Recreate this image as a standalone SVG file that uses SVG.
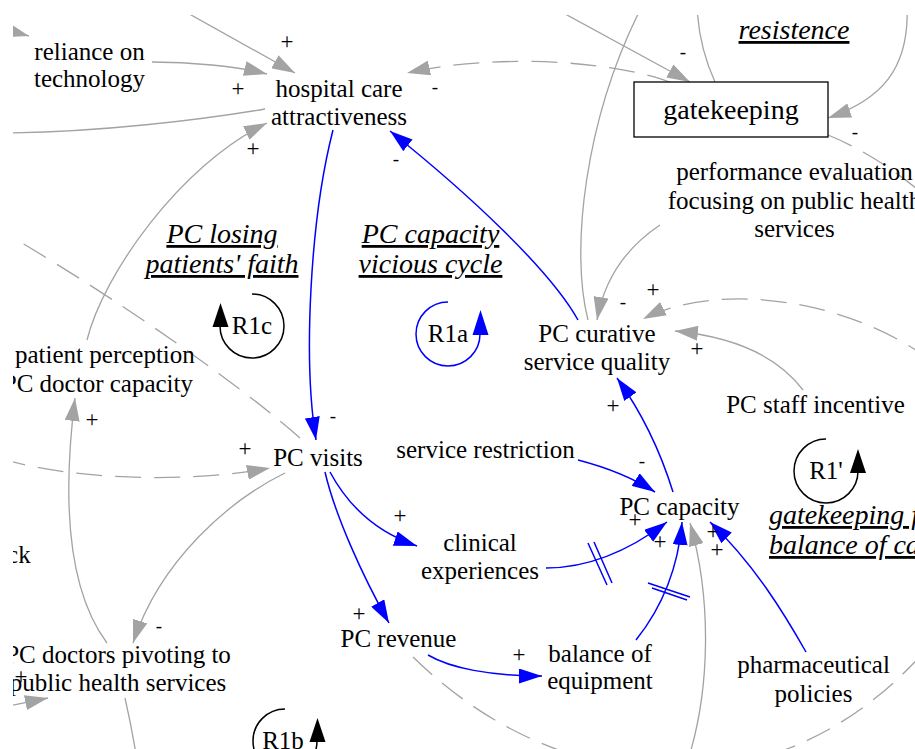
<svg xmlns="http://www.w3.org/2000/svg" width="915" height="749" viewBox="0 0 915 749">
<defs>
<style>
text{font-family:"Liberation Serif","Times New Roman",serif;fill:#000}
.v{font-size:25px;text-anchor:middle}
.l{font-size:28px;font-style:italic;text-decoration:underline;text-anchor:middle}
.p{font-size:19px;text-anchor:middle}
.q{font-size:23px;text-anchor:middle}
.g{fill:none;stroke:#a3a3a3;stroke-width:1.3}
.d{stroke-dasharray:26 13}
.b{fill:none;stroke:#0000ff;stroke-width:1.5}
.k{fill:none;stroke:#000;stroke-width:1.5}
.ag{marker-end:url(#mg)}
.ab{marker-end:url(#mb)}
</style>
<marker id="mg" markerUnits="userSpaceOnUse" markerWidth="23" markerHeight="15" viewBox="0 0 23 15" refX="23" refY="7.5" orient="auto"><path d="M0,0L23,7.5L0,15z" fill="#a3a3a3"/></marker>
<marker id="mb" markerUnits="userSpaceOnUse" markerWidth="23" markerHeight="15" viewBox="0 0 23 15" refX="23" refY="7.5" orient="auto"><path d="M0,0L23,7.5L0,15z" fill="#0000ff"/></marker>
<clipPath id="c"><rect x="13" y="15" width="902" height="734"/></clipPath>
</defs>
<rect x="0" y="0" width="915" height="749" fill="#fff"/>
<g clip-path="url(#c)">
<g id="connectors">
<path class="g ag" d="M175,6 L295,73"/>
<path class="g ag" d="M152,62 C190,62 235,66 267,74"/>
<path class="g" d="M265,109 C200,120 100,132 5,133"/>
<path class="g ag" d="M87,340 C103,275 180,165 267,123"/>
<path class="g ag" d="M-30,20 L29,36"/>
<path class="g d ag" d="M672,83 C620,62 500,52 407,73"/>
<path class="g ag" d="M545,3 L690,82"/>
<path class="g" d="M588,320 C570,250 585,120 640,10"/>
<path class="g" d="M715,82 C705,60 698,35 697,5"/>
<path class="g ag" d="M907,5 C910,70 880,100 828,118"/>
<path class="g d" d="M828,135 C855,146 890,165 930,200"/>
<path class="g ag" d="M660,225 C630,245 605,275 597,320"/>
<path class="g d ag" d="M930,360 C850,300 720,280 643,319"/>
<path class="g ag" d="M803,390 C782,362 745,338 675,331"/>
<path class="b ab" d="M578,320 C550,270 470,195 390,131"/>
<path class="b ab" d="M333,130 C310,220 303,360 316,440"/>
<path class="g d" d="M300,438 C240,385 120,300 0,230"/>
<path class="g d ag" d="M0,458 C60,478 180,485 270,468"/>
<path class="g ag" d="M285,473 C230,500 160,560 133,643"/>
<path class="g ag" d="M107,643 C60,580 66,470 75,398"/>
<path class="g" d="M125,698 C130,720 133,735 137,760"/>
<path class="g ag" d="M-20,712 L48,698"/>
<path class="b ab" d="M330,472 C345,500 370,530 417,546"/>
<path class="b ab" d="M325,472 C335,515 362,575 389,623"/>
<path class="b ab" d="M428,655 C450,668 490,676 542,676"/>
<path class="g d" d="M413,657 C570,810 790,810 930,645"/>
<path class="b ab" d="M578,460 C605,467 630,476 655,492"/>
<path class="b ab" d="M673,492 C660,450 640,410 617,378"/>
<path class="b ab" d="M546,568 C590,568 630,550 667,522"/>
<path class="b" d="M588,543 L607,585 M594,542 L612,583"/>
<path class="b ab" d="M636,640 C660,610 678,570 682,522"/>
<path class="b" d="M648,583 L690,597 M652,588 L687,600"/>
<path class="g ag" d="M688,760 C710,690 712,600 690,523"/>
<path class="b ab" d="M806,652 C785,615 755,565 710,522"/>
</g>
<g id="polarities">
<text class="q" x="287" y="49">+</text>
<text class="q" x="238" y="96">+</text>
<text class="p" x="435" y="93">-</text>
<text class="q" x="253" y="156">+</text>
<text class="p" x="396" y="165">-</text>
<text class="p" x="683" y="58">-</text>
<text class="p" x="855" y="138">-</text>
<text class="q" x="653" y="297">+</text>
<text class="p" x="623" y="308">-</text>
<text class="q" x="697" y="356">+</text>
<text class="q" x="613" y="413">+</text>
<text class="p" x="642" y="467">-</text>
<text class="p" x="333" y="422">-</text>
<text class="q" x="245" y="456">+</text>
<text class="q" x="92" y="427">+</text>
<text class="q" x="400" y="523">+</text>
<text class="q" x="359" y="621">+</text>
<text class="p" x="159" y="632">-</text>
<text class="q" x="519" y="662">+</text>
<text class="q" x="635" y="527">+</text>
<text class="q" x="660" y="549">+</text>
<text class="q" x="713" y="539">+</text>
<text class="q" x="717" y="557">+</text>
<text class="q" x="21" y="684">+</text>
</g>
<g id="reliance-on-technology"><text class="v" x="89.5" y="60">reliance on</text><text class="v" x="89.5" y="87">technology</text></g>
<g id="hospital-care-attractiveness"><text class="v" x="339" y="97">hospital care</text><text class="v" x="339" y="125">attractiveness</text></g>
<g id="gatekeeping"><rect x="634" y="82" width="194" height="55" fill="#fff" stroke="#000" stroke-width="1.3"/><text x="731" y="118.5" font-size="28" text-anchor="middle">gatekeeping</text></g>
<g id="resistence"><text class="l" x="794" y="39">resistence</text></g>
<g id="performance-evaluation"><text class="v" x="794.5" y="180">performance evaluation</text><text class="v" x="794.5" y="208.5">focusing on public health</text><text class="v" x="794.5" y="237">services</text></g>
<g id="loop-pc-losing"><text class="l" x="222" y="243">PC losing</text><text class="l" x="222" y="273">patients' faith</text></g>
<g id="loop-pc-capacity"><text class="l" x="430.5" y="243">PC capacity</text><text class="l" x="430.5" y="273">vicious cycle</text></g>
<g id="R1c"><path class="k" d="M252,294 A32,32 0 1,1 220,326"/><polygon points="212.5,327 228.5,327 220.5,303" fill="#000"/><text class="v" x="252" y="334">R1c</text></g>
<g id="R1a"><path class="b" d="M448,302 A32,32 0 1,0 480,334"/><polygon points="472.5,335 488.5,335 480.5,310" fill="#0000ff"/><text class="v" x="448" y="341.5">R1a</text></g>
<g id="R1prime"><path class="k" d="M826,439 A32,32 0 1,0 858,471"/><polygon points="850,473 866,473 858,449" fill="#000"/><text class="v" x="826" y="479">R1'</text></g>
<g id="R1b"><path class="k" d="M285,709 A32,32 0 1,0 317,741"/><polygon points="309.5,742 325.5,742 317.5,718" fill="#000"/><text class="v" x="283" y="749">R1b</text></g>
<g id="loop-gatekeeping"><text class="l" x="769" y="524" style="text-anchor:start">gatekeeping f</text><text class="l" x="769" y="554" style="text-anchor:start">balance of ca</text></g>
<g id="patient-perception"><text class="v" x="15" y="363" style="text-anchor:start">patient perception</text><text class="v" x="193" y="392" style="text-anchor:end">PC doctor capacity</text></g>
<g id="pc-visits"><text class="v" x="318" y="466">PC visits</text></g>
<g id="service-restriction"><text class="v" x="485.5" y="458">service restriction</text></g>
<g id="pc-curative-service-quality"><text class="v" x="597" y="342">PC curative</text><text class="v" x="597" y="370">service quality</text></g>
<g id="pc-staff-incentive"><text class="v" x="815.5" y="413">PC staff incentive</text></g>
<g id="pc-capacity"><text class="v" x="679.5" y="515">PC capacity</text></g>
<g id="clinical-experiences"><text class="v" x="480" y="551">clinical</text><text class="v" x="480" y="579">experiences</text></g>
<g id="pc-revenue"><text class="v" x="398.5" y="647">PC revenue</text></g>
<g id="balance-of-equipment"><text class="v" x="600" y="662">balance of</text><text class="v" x="600" y="689">equipment</text></g>
<g id="pharmaceutical-policies"><text class="v" x="813.5" y="673">pharmaceutical</text><text class="v" x="813.5" y="702">policies</text></g>
<g id="pc-doctors-pivoting"><text class="v" x="118" y="663">PC doctors pivoting to</text><text class="v" x="118" y="691">public health services</text></g>
<g id="feedback-partial"><text class="v" x="30.7" y="563" style="text-anchor:end">ck</text></g>
</g>
</svg>
